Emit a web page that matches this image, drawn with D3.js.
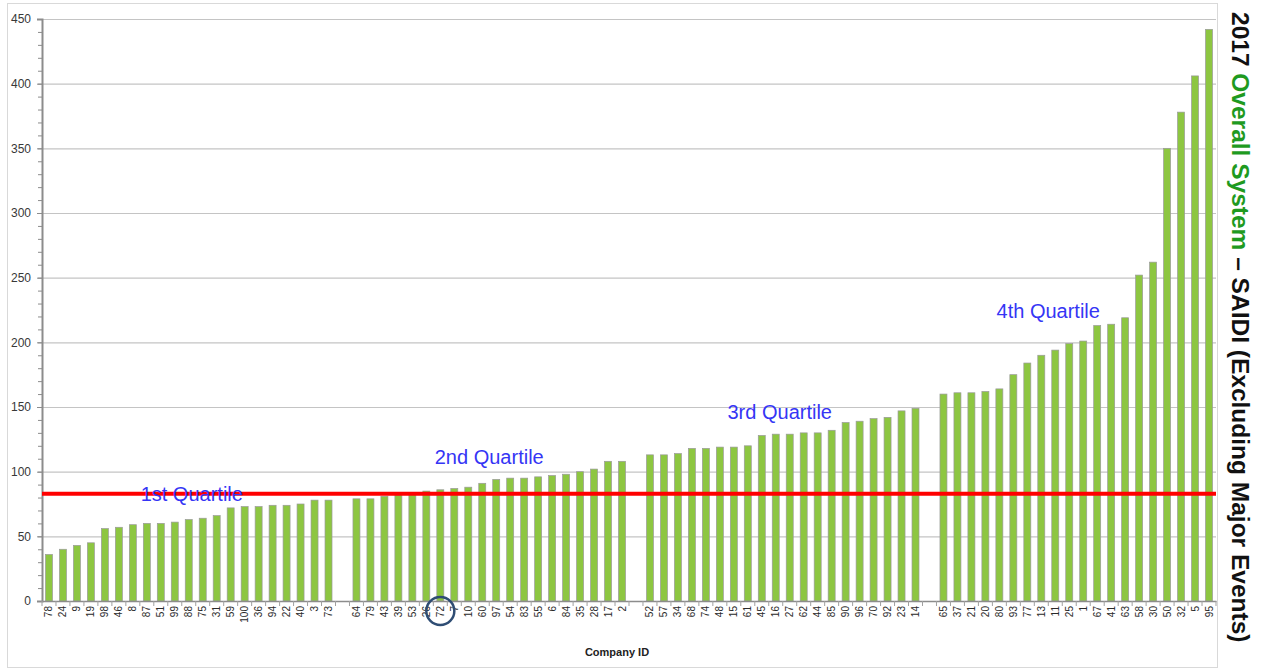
<!DOCTYPE html>
<html>
<head>
<meta charset="utf-8">
<script src="https://cdn.jsdelivr.net/npm/d3@7"></script>
<style>
  body { margin: 0; background: #fff; }
  svg { display: block; font-family: "Liberation Sans", Arial, sans-serif; }
</style>
</head>
<body>
<div id="chart"></div>
<script>
// company ids and SAIDI values, per quartile
const q1Ids = ["78","24","9","19","98","46","8","87","51","99","88","75","31","59","100","36","94","22","40","3","73"];
const q1Vals = [36,40,43,45,56,57,59,60,60,61,63,64,66,72,73,73,74,74,75,78,78];
const q2Ids = ["64","79","43","39","53","26","72","7","10","60","97","54","83","55","6","84","35","28","17","2"];
const q2Vals = [79,79,81,82,84,85,86,87,88,91,94,95,95,96,97,98,100,102,108,108];
const q3Ids = ["52","57","34","68","74","48","15","61","45","16","27","62","44","85","90","96","70","92","23","14"];
const q3Vals = [113,113,114,118,118,119,119,120,128,129,129,130,130,132,138,139,141,142,147,149];
const q4Ids = ["65","37","21","20","80","93","77","13","11","25","1","67","41","63","58","30","50","32","5","95"];
const q4Vals = [160,161,161,162,164,175,184,190,194,199,201,213,214,219,252,262,350,378,406,442];
const quartileNames = ["1st Quartile", "2nd Quartile", "3rd Quartile", "4th Quartile"];
const yTicks = [0,50,100,150,200,250,300,350,400,450];
const benchmark = 83;
const highlightId = "72";

const W = 1264, H = 669;
const mLeft = 42, mRight = 1216, mTop = 19, mBottom = 601;

const quartiles = [
  { ids: q1Ids, vals: q1Vals },
  { ids: q2Ids, vals: q2Vals },
  { ids: q3Ids, vals: q3Vals },
  { ids: q4Ids, vals: q4Vals }
];

// slots, with one empty slot between quartiles
let slots = [];
let bars = [];
quartiles.forEach((q, i) => {
  if (i > 0) slots.push("gap" + i);
  q.ids.forEach((id, j) => {
    slots.push(id);
    bars.push({ id: id, value: q.vals[j] });
  });
});

const svg = d3.select("#chart").append("svg")
  .attr("width", W)
  .attr("height", H);

svg.append("rect").attr("width", W).attr("height", H).attr("fill", "#fff");

// outer chart frame
svg.append("rect")
  .attr("x", 7.5).attr("y", 3.5)
  .attr("width", 1210).attr("height", 664)
  .attr("fill", "none")
  .attr("stroke", "#d9d9d9");

const x = d3.scaleBand().domain(slots).range([mLeft, mRight]).padding(0);
const y = d3.scaleLinear().domain([0, 450]).range([mBottom, mTop]);

// gridlines
svg.append("g")
  .attr("transform", `translate(${mLeft},0)`)
  .call(d3.axisLeft(y).tickValues(yTicks.slice(1)).tickSize(-(mRight - mLeft)).tickFormat(""))
  .call(g => g.select(".domain").remove())
  .call(g => g.selectAll("line").attr("stroke", "#c4c4c4").attr("stroke-width", 1.2));

// minor ticks
svg.append("g")
  .attr("transform", `translate(${mLeft},0)`)
  .call(d3.axisLeft(y).tickValues(d3.range(0, 451, 10)).tickSize(4).tickFormat(""))
  .call(g => g.select(".domain").remove())
  .call(g => g.selectAll("line").attr("stroke", "#8c8c8c"));

// y axis with labels
svg.append("g")
  .attr("transform", `translate(${mLeft},0)`)
  .call(d3.axisLeft(y).tickValues(yTicks).tickSize(5).tickPadding(6))
  .call(g => g.select(".domain").attr("stroke", "#8c8c8c").attr("stroke-width", 2))
  .call(g => g.selectAll("line").attr("stroke", "#8c8c8c"))
  .call(g => g.selectAll("text")
    .attr("fill", "#383838")
    .style("font-size", "12px")
    .style("font-family", "Liberation Sans, Arial, sans-serif"));

// bars
const bw = x.bandwidth() * 0.5;
svg.append("g")
  .selectAll("rect")
  .data(bars)
  .enter()
  .append("rect")
  .attr("x", d => x(d.id) + (x.bandwidth() - bw) / 2)
  .attr("y", d => y(d.value))
  .attr("width", bw)
  .attr("height", d => y(0) - y(d.value))
  .attr("fill", "#8dc641")
  .attr("stroke", "#9a9a9a")
  .attr("stroke-width", 0.7);

// x axis
const xAxis = svg.append("g")
  .attr("transform", `translate(0,${mBottom})`)
  .call(d3.axisBottom(x).tickSize(0).tickFormat(d => d.startsWith("gap") ? "" : d));
xAxis.select(".domain").attr("stroke", "#8c8c8c").attr("stroke-width", 1.5);
xAxis.selectAll("text")
  .attr("transform", "rotate(-90)")
  .attr("x", -5)
  .attr("y", 0)
  .attr("dy", "0.35em")
  .attr("text-anchor", "end")
  .attr("fill", "#2a2a2a")
  .style("font-size", "10px")
  .style("font-family", "Liberation Sans, Arial, sans-serif");

// category boundary ticks
const bounds = slots.map(s => x(s)).concat([mRight]);
svg.append("g")
  .selectAll("line")
  .data(bounds)
  .enter()
  .append("line")
  .attr("x1", d => d).attr("x2", d => d)
  .attr("y1", mBottom).attr("y2", mBottom + 5)
  .attr("stroke", "#a0a0a0");

// benchmark line
svg.append("line")
  .attr("x1", mLeft).attr("x2", mRight)
  .attr("y1", y(benchmark)).attr("y2", y(benchmark))
  .attr("stroke", "#ff0000")
  .attr("stroke-width", 4);

// quartile labels
const labelVals = [83, 111, 146, 224];
const labelShift = [10, 0, -3, -28];
quartiles.forEach((q, i) => {
  const mid = q.ids[Math.floor(q.ids.length / 2)];
  svg.append("text")
    .attr("x", x(mid) + labelShift[i])
    .attr("y", y(labelVals[i]))
    .attr("dy", "0.35em")
    .attr("text-anchor", "middle")
    .attr("fill", "#3535f5")
    .style("font-size", "20px")
    .text(quartileNames[i]);
});

// circle around highlighted company
svg.append("circle")
  .attr("cx", x(highlightId) + x.bandwidth() / 2)
  .attr("cy", mBottom + 10)
  .attr("r", 14)
  .attr("fill", "none")
  .attr("stroke", "#2f4d74")
  .attr("stroke-width", 2.5);

// x axis title
svg.append("text")
  .attr("x", 617)
  .attr("y", 656)
  .attr("text-anchor", "middle")
  .attr("fill", "#222")
  .style("font-size", "11px")
  .style("font-weight", "bold")
  .text("Company ID");

// chart title, vertical on the right
const title = svg.append("text")
  .attr("transform", "translate(1232,12) rotate(90)")
  .style("font-size", "24.5px")
  .style("font-weight", "bold")
  .attr("fill", "#111");
title.append("tspan").text("2017 ");
title.append("tspan").attr("fill", "#1f9a1f").text("Overall System");
title.append("tspan").text(" \u2013 SAIDI (Excluding Major Events)");
</script>
</body>
</html>
